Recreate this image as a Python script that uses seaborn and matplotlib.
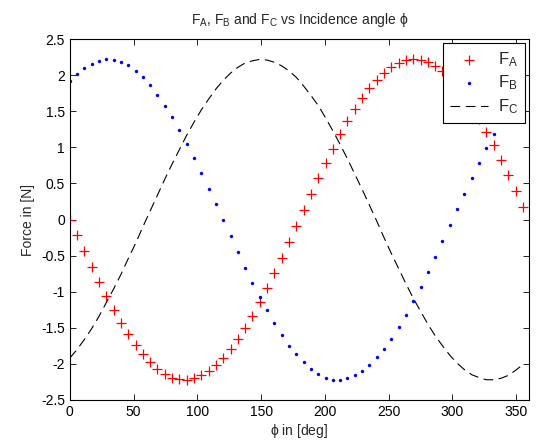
import matplotlib
matplotlib.use("Agg")
import matplotlib.pyplot as plt
import seaborn as sns

# incidence angle, degrees (sampled every 0.1 rad)
phi_deg = [0.00, 5.73, 11.46, 17.19, 22.92, 28.65, 34.38, 40.11, 45.84, 51.57,
           57.30, 63.03, 68.75, 74.48, 80.21, 85.94, 91.67, 97.40, 103.13, 108.86,
           114.59, 120.32, 126.05, 131.78, 137.51, 143.24, 148.97, 154.70, 160.43, 166.16,
           171.89, 177.62, 183.35, 189.08, 194.81, 200.54, 206.26, 211.99, 217.72, 223.45,
           229.18, 234.91, 240.64, 246.37, 252.10, 257.83, 263.56, 269.29, 275.02, 280.75,
           286.48, 292.21, 297.94, 303.67, 309.40, 315.13, 320.86, 326.59, 332.32, 338.05,
           343.77, 349.50, 355.23]

force_a = [0.00, -0.22, -0.44, -0.66, -0.86, -1.06, -1.25, -1.43, -1.59, -1.74,
           -1.87, -1.98, -2.07, -2.14, -2.19, -2.21, -2.22, -2.20, -2.16, -2.10,
           -2.02, -1.92, -1.79, -1.66, -1.50, -1.33, -1.14, -0.95, -0.74, -0.53,
           -0.31, -0.09, 0.13, 0.35, 0.57, 0.78, 0.98, 1.18, 1.36, 1.53,
           1.68, 1.82, 1.93, 2.03, 2.11, 2.17, 2.21, 2.22, 2.21, 2.18,
           2.13, 2.06, 1.96, 1.85, 1.72, 1.57, 1.40, 1.22, 1.03, 0.83,
           0.62, 0.40, 0.18]

force_b = [1.92, 2.02, 2.10, 2.16, 2.20, 2.22, 2.21, 2.19, 2.14, 2.06,
           1.97, 1.86, 1.73, 1.58, 1.42, 1.24, 1.05, 0.85, 0.64, 0.43,
           0.21, -0.01, -0.23, -0.45, -0.67, -0.88, -1.07, -1.26, -1.44, -1.60,
           -1.75, -1.87, -1.98, -2.07, -2.14, -2.19, -2.22, -2.22, -2.20, -2.16,
           -2.10, -2.01, -1.91, -1.79, -1.65, -1.49, -1.32, -1.13, -0.94, -0.73,
           -0.52, -0.30, -0.08, 0.14, 0.36, 0.58, 0.79, 0.99, 1.19, 1.37,
           1.53, 1.69, 1.82]

force_c = [-1.92, -1.80, -1.66, -1.51, -1.34, -1.15, -0.96, -0.76, -0.54, -0.33,
           -0.10, 0.12, 0.34, 0.56, 0.77, 0.97, 1.17, 1.35, 1.52, 1.67,
           1.81, 1.93, 2.03, 2.11, 2.17, 2.20, 2.22, 2.21, 2.18, 2.13,
           2.06, 1.97, 1.85, 1.72, 1.58, 1.41, 1.23, 1.04, 0.84, 0.63,
           0.42, 0.20, -0.02, -0.25, -0.47, -0.68, -0.89, -1.09, -1.27, -1.45,
           -1.61, -1.75, -1.88, -1.99, -2.08, -2.15, -2.19, -2.22, -2.22, -2.20,
           -2.16, -2.09, -2.01]

x_ticks = [0, 50, 100, 150, 200, 250, 300, 350]
y_ticks = [-2.5, -2, -1.5, -1, -0.5, 0, 0.5, 1, 1.5, 2, 2.5]

sns.set_style("ticks")
plt.rcParams['font.family'] = ['Liberation Sans', 'DejaVu Sans']
plt.rcParams['mathtext.fontset'] = 'custom'
plt.rcParams['mathtext.rm'] = 'Liberation Sans'
plt.rcParams['mathtext.it'] = 'Liberation Sans'
plt.rcParams['lines.scale_dashes'] = False

fig = plt.figure(figsize=(5.37, 4.40), dpi=100)
ax = fig.add_axes([0.130, 0.091, 0.855, 0.820])

sns.scatterplot(x=phi_deg, y=force_a, marker='+', s=45, color='red',
                linewidth=0.9, label=r'F$_\mathregular{A}$', ax=ax)
sns.scatterplot(x=phi_deg, y=force_b, marker='o', s=6, color='blue',
                linewidth=0, label=r'F$_\mathregular{B}$', ax=ax)
sns.lineplot(x=phi_deg, y=force_c, color='black', linewidth=0.8,
             linestyle=(0, (7, 4)), label=r'F$_\mathregular{C}$', ax=ax)

ax.set_xlim(0, 360)
ax.set_ylim(-2.5, 2.5)
ax.set_xticks(x_ticks)
ax.set_yticks(y_ticks)
ax.set_yticklabels([f'{v:g}' for v in y_ticks])
ax.tick_params(direction='in', top=True, right=True, length=4, width=0.6,
               labelsize=10, colors='black')
for sp in ax.spines.values():
    sp.set_visible(True)
    sp.set_linewidth(0.8)
    sp.set_color('black')

ax.set_title(r'F$_\mathregular{A}$, F$_\mathregular{B}$ and F$_\mathregular{C}$ vs Incidence angle $\phi$',
             fontsize=10, pad=11)
ax.set_xlabel(r'$\phi$ in [deg]', fontsize=10, labelpad=2)
ax.set_ylabel('Force in [N]', fontsize=10, labelpad=4)

leg = ax.legend(loc='upper right', fontsize=12, frameon=True, fancybox=False,
                edgecolor='black', framealpha=1, handlelength=2.3,
                borderaxespad=0.25, labelspacing=0.3, handletextpad=0.6,
                borderpad=0.4, markerfirst=True)
leg.get_frame().set_linewidth(0.8)

fig.savefig('out.png', dpi=100)
